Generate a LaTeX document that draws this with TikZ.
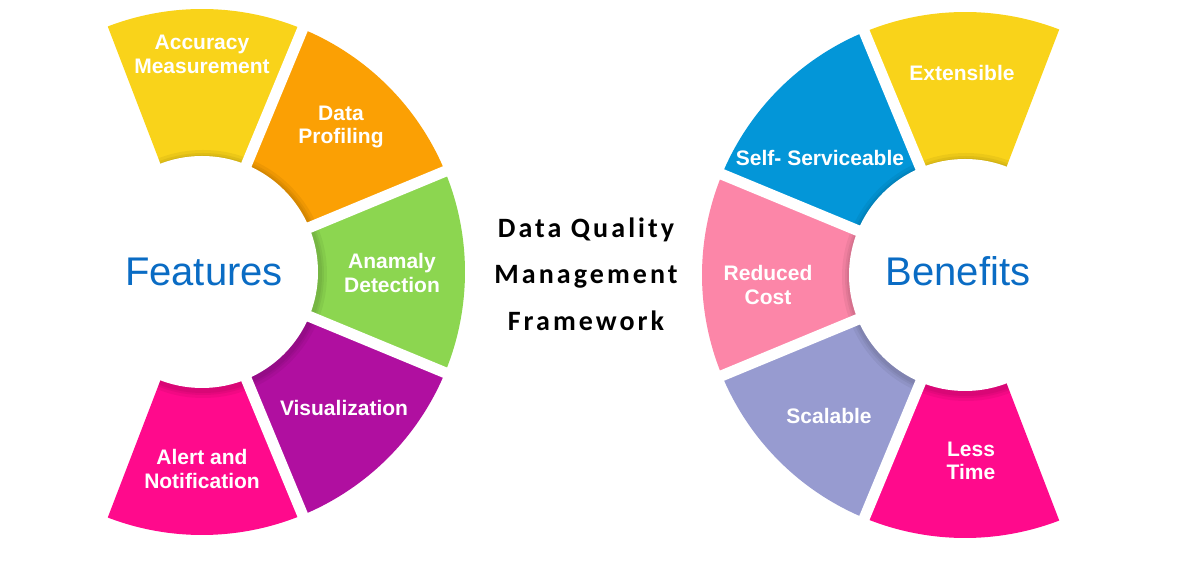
\documentclass[tikz,border=0pt]{standalone}
\usepackage{fontspec}
\setmainfont{Liberation Sans}
\newfontfamily\titlefont{Carlito}[LetterSpace=11]

\definecolor{segyellow}{HTML}{F9D31A}
\definecolor{segorange}{HTML}{FBA004}
\definecolor{seggreen}{HTML}{8CD650}
\definecolor{segpurple}{HTML}{B00FA0}
\definecolor{segmagenta}{HTML}{FF0A8C}
\definecolor{segblue}{HTML}{0396D8}
\definecolor{segrose}{HTML}{FC86A8}
\definecolor{seglavender}{HTML}{979BD0}
\definecolor{hubblue}{HTML}{0A6CC4}

\begin{document}
\begin{tikzpicture}[x=1pt,y=1pt,
  seglabel/.style={text=white, inner sep=0pt, align=center,
    font=\fontsize{21}{23.5}\selectfont\bfseries},
  hublabel/.style={text=hubblue, inner sep=0pt, font=\fontsize{40}{44}\selectfont},
  titlelabel/.style={text=black, inner sep=0pt, align=center,
    font=\fontsize{28}{46.5}\selectfont\titlefont\bfseries}]
\useasboundingbox (0,0) rectangle (1179,565);
% Set the wheel dimensions
\def\outerr{263} % outer radius of the coloured ring
\def\innerr{116} % radius of the white hub
\coordinate (featc) at (202,293);
\coordinate (benc) at (965,290);

% Features wheel: segments, gaps, hub
\foreach \a/\b/\c in {67.5/111/segyellow, 22.5/67.5/segorange, -22.5/22.5/seggreen,
    -67.5/-22.5/segpurple, -111/-67.5/segmagenta}
  \fill[\c] (featc) -- ++(\a:\outerr) arc[start angle=\a, end angle=\b, radius=\outerr] -- cycle;
\begin{scope}
  \clip (featc) -- ++(-111:\outerr) arc[start angle=-111, end angle=111, radius=\outerr] -- cycle;
  \foreach \r in {124,121,119}
    \fill[black, opacity=0.05] ([shift={(1,-2)}]featc) circle[radius=\r];
\end{scope}
\foreach \a in {67.5,22.5,-22.5,-67.5}
  \draw[white, line width=11] (featc) -- ++(\a:\outerr+5);
\fill[white] (featc) circle[radius=\innerr];

% Benefits wheel: segments, gaps, hub
\foreach \a/\b/\c in {69/112.5/segyellow, 112.5/157.5/segblue, 157.5/202.5/segrose,
    202.5/247.5/seglavender, 247.5/291/segmagenta}
  \fill[\c] (benc) -- ++(\a:\outerr) arc[start angle=\a, end angle=\b, radius=\outerr] -- cycle;
\begin{scope}
  \clip (benc) -- ++(69:\outerr) arc[start angle=69, end angle=291, radius=\outerr] -- cycle;
  \foreach \r in {124,121,119}
    \fill[black, opacity=0.05] ([shift={(1,-2)}]benc) circle[radius=\r];
\end{scope}
\foreach \a in {112.5,157.5,202.5,247.5}
  \draw[white, line width=11] (benc) -- ++(\a:\outerr+5);
\fill[white] (benc) circle[radius=\innerr];

% Hub texts
\node[hublabel] (features) at (204,293) {Features};
\node[hublabel] (benefits) at (958,293.5) {Benefits};

% Feature labels
\node[seglabel] (accuracy) at (202,510.5) {Accuracy\\Measurement};
\node[seglabel] (profiling) at (341,438) {Data\\Profiling};
\node[seglabel] (anomaly) at (392,292) {Anamaly\\Detection};
\node[seglabel] (visual) at (344,157.5) {Visualization};
\node[seglabel] (alert) at (202,96) {Alert and\\Notification};

% Benefit labels
\node[seglabel] (extensible) at (962,492) {Extensible};
\node[seglabel] (selfserv) at (820,407) {Self- Serviceable};
\node[seglabel] (reduced) at (768,280) {Reduced\\Cost};
\node[seglabel] (scalable) at (829,149.5) {Scalable};
\node[seglabel] (lesstime) at (971,104) {Less\\Time};

% Title in the middle
\node[titlelabel] (title) at (586,291) {Data Quality\\Management\\Framework};
\end{tikzpicture}
\end{document}
